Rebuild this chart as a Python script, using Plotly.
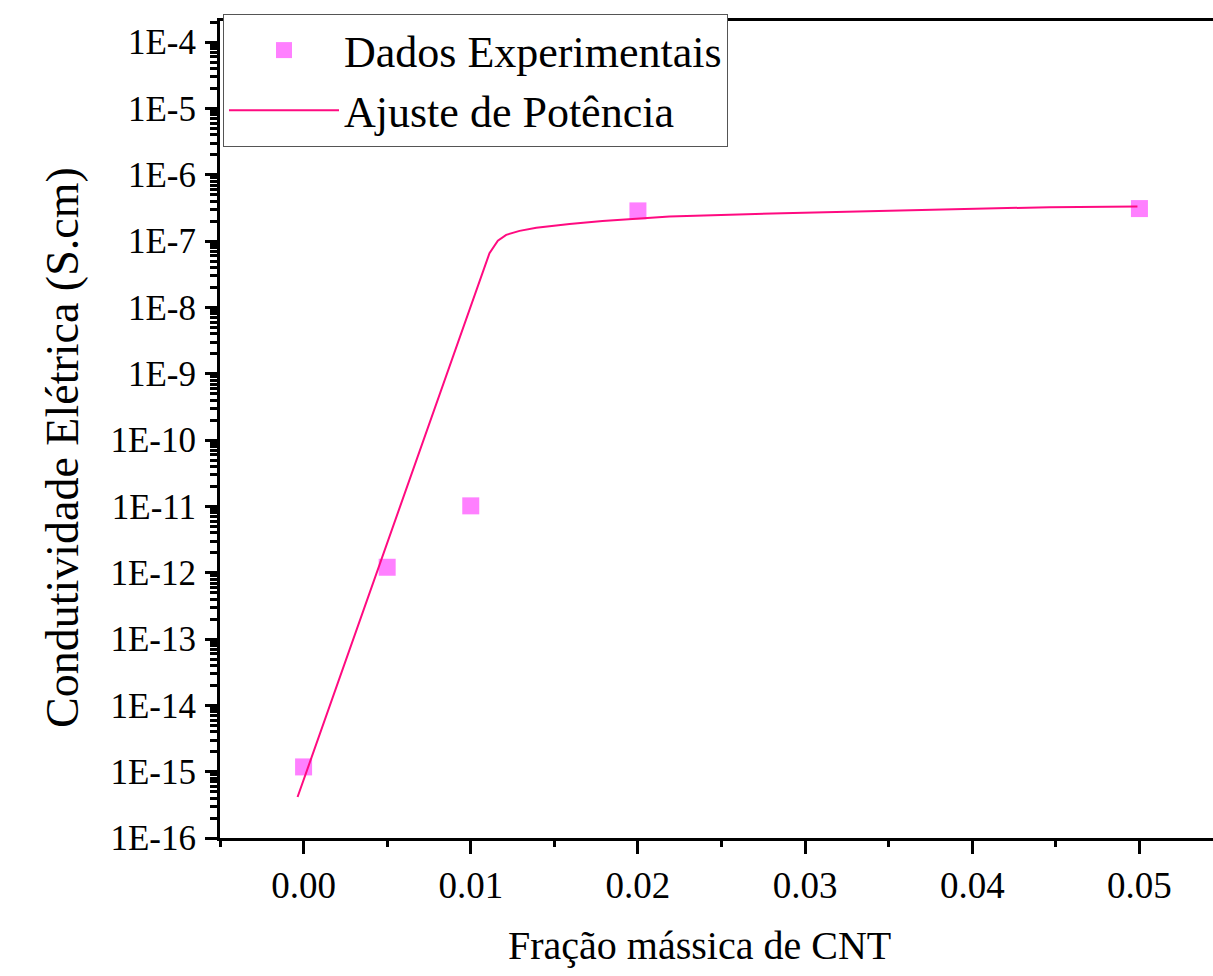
import plotly.graph_objects as go

# Experimental data
frac_exp = [0.000, 0.005, 0.010, 0.020, 0.050]
cond_exp = [1.18e-15, 1.21e-12, 1.02e-11, 2.86e-7, 3.10e-7]

# Power-law fit curve
frac_fit = [-0.00036, 0.01112, 0.01162, 0.01212, 0.01292, 0.01392, 0.01591,
            0.01788, 0.01990, 0.02189, 0.02865, 0.03666, 0.04462, 0.04988]
cond_fit = [4.15e-16, 6.59e-8, 1.02e-7, 1.245e-7, 1.43e-7, 1.59e-7, 1.82e-7,
            2.02e-7, 2.17e-7, 2.35e-7, 2.64e-7, 2.96e-7, 3.26e-7, 3.33e-7]

x_ticks = [0.00, 0.01, 0.02, 0.03, 0.04, 0.05]
x_ticktext = ["0.00", "0.01", "0.02", "0.03", "0.04", "0.05"]
y_exps = list(range(-16, -3))
y_ticks = [10.0 ** e for e in y_exps]
y_ticktext = [f"1E{e}" for e in y_exps]

# all y tick positions (decades labelled, intermediate digits unlabelled)
y_all_vals = []
y_all_text = []
for e in range(-16, -3):
    for m in range(1, 10):
        y_all_vals.append(m * 10.0 ** e)
        y_all_text.append(f"1E{e}" if m == 1 else "")
y_all_vals.append(1e-4)
y_all_text.append("1E-4")

FONT = "Liberation Serif"
W, H = 1213, 976
L, T, B = 220, 21, 138
PW, PH = W - L, H - T - B
Y_RANGE = [-16, -3.68]

fig = go.Figure()
fig.add_trace(go.Scatter(
    x=frac_exp, y=cond_exp, mode="markers", name="Dados Experimentais",
    marker=dict(symbol="square", size=17, color="#FF80FF", line=dict(width=0)),
))
fig.add_trace(go.Scatter(
    x=frac_fit, y=cond_fit, mode="lines", name="Ajuste de Potência",
    yaxis="y2", line=dict(color="#FF0A80", width=2),
))

def px_x(p):
    return (p - L) / PW

def px_y(p):
    return (H - B - p) / PH

fig.update_layout(
    width=W, height=H,
    margin=dict(l=L, r=0, t=T, b=B),
    paper_bgcolor="white", plot_bgcolor="white",
    font=dict(family=FONT, color="black"),
    showlegend=True,
    legend=dict(
        x=px_x(223), y=px_y(14), xanchor="left", yanchor="top",
        bgcolor="white", bordercolor="#555555", borderwidth=1,
        font=dict(family=FONT, size=44, color="black"),
        itemwidth=110, tracegroupgap=0,
    ),
    xaxis=dict(
        range=[-0.005, 0.0544], showgrid=False, zeroline=False,
        showline=True, linecolor="black", linewidth=3, mirror=True,
        ticks="outside", ticklen=13, tickwidth=3, tickcolor="black",
        tickmode="array", tickvals=x_ticks, ticktext=x_ticktext,
        tickfont=dict(family=FONT, size=37, color="black"),
        minor=dict(ticks="outside", ticklen=6, tickwidth=3, tickcolor="black",
                   dtick=0.005, tick0=0, showgrid=False),
    ),
    yaxis=dict(
        type="log", range=Y_RANGE, showgrid=False, zeroline=False,
        showline=True, linecolor="black", linewidth=3, mirror=False,
        ticks="outside", ticklen=7, tickwidth=3, tickcolor="black",
        tickmode="array", tickvals=y_all_vals, ticktext=y_all_text,
        ticklabelstandoff=7,
        tickfont=dict(family=FONT, size=35, color="black"),
    ),
    yaxis2=dict(
        type="log", range=Y_RANGE, overlaying="y", side="left",
        anchor="x", showgrid=False, zeroline=False, showline=False,
        ticks="outside", ticklen=14, tickwidth=3, tickcolor="black",
        tickmode="array", tickvals=y_ticks, showticklabels=False,
    ),
    annotations=[
        dict(text="Fração mássica de CNT", xref="paper", yref="paper",
             x=px_x(699), y=px_y(945), xanchor="center", yanchor="middle",
             showarrow=False, font=dict(family=FONT, size=40, color="black")),
        dict(text="Condutividade Elétrica (S.cm)", xref="paper", yref="paper",
             x=px_x(62), y=px_y(448), xanchor="center", yanchor="middle",
             textangle=-90, showarrow=False,
             font=dict(family=FONT, size=46, color="black")),
    ],
)

fig.write_html("out.html")
